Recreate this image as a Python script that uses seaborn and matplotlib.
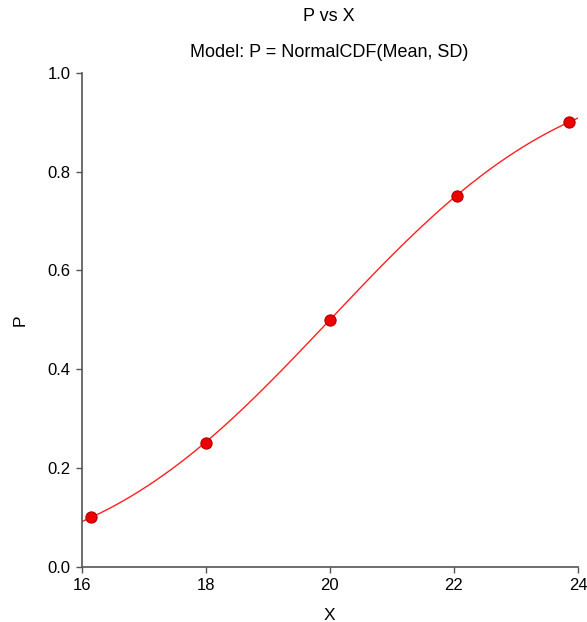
import math
import numpy as np
import pandas as pd
import seaborn as sns
import matplotlib
matplotlib.use("Agg")
import matplotlib.pyplot as plt

# Data
x_obs = [16.15, 18.0, 20.0, 22.05, 23.85]
p_obs = [0.10, 0.25, 0.50, 0.75, 0.90]

# Fitted model parameters (P = NormalCDF(Mean, SD))
model_mean = 20.0
model_sd = 3.0

x_ticks = [16, 18, 20, 22, 24]
y_ticks = [0.0, 0.2, 0.4, 0.6, 0.8, 1.0]

title = "P vs X"
subtitle = "Model: P = NormalCDF(Mean, SD)"

sns.set_theme(style="ticks")
plt.rcParams["font.family"] = ["Liberation Sans", "DejaVu Sans"]
plt.rcParams["text.color"] = "black"
plt.rcParams["axes.labelcolor"] = "black"

fig = plt.figure(figsize=(5.87, 6.22), dpi=100)
ax = fig.add_axes([0.1392, 0.0889, 0.8455, 0.7937])

xs = np.linspace(16, 24, 300)
ps = [0.5 * (1 + math.erf((v - model_mean) / (model_sd * math.sqrt(2)))) for v in xs]
curve = pd.DataFrame({"X": xs, "P": ps})
pts = pd.DataFrame({"X": x_obs, "P": p_obs})

sns.lineplot(data=curve, x="X", y="P", ax=ax, color="#ff2020", linewidth=1.0)
sns.scatterplot(data=pts, x="X", y="P", ax=ax, color="#ee0000", edgecolor="#b00000",
                s=65, linewidth=0.8, zorder=5)

ax.set_xlim(16, 24)
ax.set_ylim(0, 1)
ax.set_xticks(x_ticks)
ax.set_xticklabels([str(t) for t in x_ticks])
ax.set_yticks(y_ticks)
ax.set_yticklabels([f"{t:.1f}" for t in y_ticks])

for side in ["top", "right"]:
    ax.spines[side].set_visible(False)
for side in ["left", "bottom"]:
    ax.spines[side].set_color("#555555")
    ax.spines[side].set_linewidth(1.2)
ax.tick_params(axis="both", colors="#555555", labelcolor="black", labelsize=12,
               length=4.5, width=1.0, direction="out", pad=3.5)

ax.set_xlabel("X", fontsize=12.5, labelpad=11, color="black")
ax.set_ylabel("P", fontsize=12.5, labelpad=14, color="black")

fig.text(0.561, 0.974, title, ha="center", va="center", fontsize=13, color="black")
fig.text(0.561, 0.9156, subtitle, ha="center", va="center", fontsize=13, color="black")

fig.savefig("out.png", dpi=100)
